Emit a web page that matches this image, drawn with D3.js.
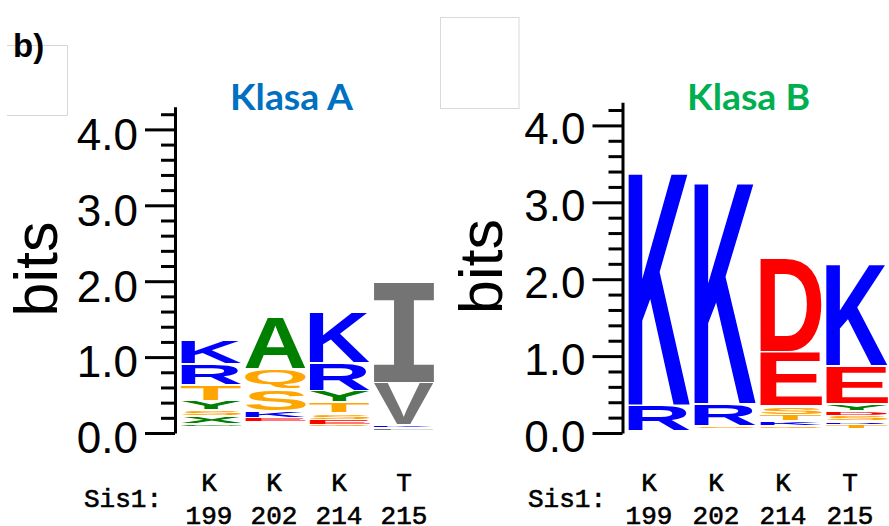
<!DOCTYPE html>
<html><head><meta charset="utf-8">
<script src="https://cdn.jsdelivr.net/npm/d3@7"></script>
<style>body{margin:0;background:#fff} svg{display:block}</style>
</head><body>
<svg id="chart" width="889" height="526"></svg>
<script>
// ---------- data ----------
const positions = ["199", "202", "214", "215"];
const sis1Residues = ["K", "K", "K", "T"];
const majorTicks = [0, 1, 2, 3, 4];
const minorTicks = [0.2, 0.4, 0.6, 0.8, 1.2, 1.4, 1.6, 1.8, 2.2, 2.4, 2.6, 2.8, 3.2, 3.4, 3.6, 3.8, 4.2];
const titles = ["Klasa A", "Klasa B"];

// stacks listed bottom -> top, heights in bits
const lettersA = [
  ["G", "X", "S", "Y", "T", "R", "K"],
  ["E", "K", "S", "Q", "A"],
  ["Q", "E", "S", "T", "Y", "R", "K"],
  ["L", "K", "V", "I"]
];
const bitsA = [
  [0.020, 0.112, 0.079, 0.125, 0.210, 0.270, 0.307],
  [0.043, 0.095, 0.280, 0.274, 0.689],
  [0.026, 0.070, 0.084, 0.149, 0.151, 0.358, 0.671],
  [0.036, 0.037, 0.559, 1.326]
];
const unseenA = [0.092, 0.154, 0.079, 0.033];

const lettersB = [
  ["R", "K"],
  ["S", "R", "K"],
  ["Q", "K", "T", "S", "E", "D"],
  ["T", "R", "S", "D", "Y", "E", "K"]
];
const bitsB = [
  [0.338, 3.066],
  [0.033, 0.286, 2.917],
  [0.046, 0.052, 0.087, 0.114, 0.700, 1.221],
  [0.062, 0.035, 0.078, 0.065, 0.091, 0.494, 1.350]
];
const unseenB = [0.020, 0.059, 0.052, 0.052];

const residueColors = {
  K: "#0000ff", R: "#0000ff", H: "#0000ff",
  D: "#ff0000", E: "#ff0000",
  A: "#008000", Y: "#008000", G: "#008000", X: "#008000", N: "#008000",
  Q: "#ffa500", S: "#ffa500", T: "#ffa500",
  I: "#747474", V: "#747474", L: "#747474"
};

// ---------- drawing ----------
const svg = d3.select("#chart");
svg.append("rect").attr("width", 889).attr("height", 526).attr("fill", "#fff");

// decorative frames
svg.append("path").attr("d", "M7,45.5H67.5V115.5H7").attr("fill", "none").attr("stroke", "#d6d6d6").attr("stroke-width", 1);
svg.append("rect").attr("x", 440.5).attr("y", 17.5).attr("width", 78.5).attr("height", 91)
  .attr("fill", "#fff").attr("stroke", "#d9d9d9").attr("stroke-width", 1);

svg.append("text").attr("x", 13).attr("y", 57).text("b)")
  .attr("font-family", "'Liberation Sans', Arial, sans-serif").attr("font-weight", "bold")
  .attr("font-size", 33).attr("fill", "#000");

const ctx = document.createElement("canvas").getContext("2d");
const metricCache = {};
function fontFor(ch) {
  return ch === "I" ? "'DejaVu Sans Mono'" : "'Liberation Sans'";
}
function glyphMetrics(ch) {
  if (metricCache[ch]) return metricCache[ch];
  ctx.font = "bold 100px " + fontFor(ch);
  const m = ctx.measureText(ch);
  let res = { l: -m.actualBoundingBoxLeft, r: m.actualBoundingBoxRight, t: -m.actualBoundingBoxAscent, b: m.actualBoundingBoxDescent };
  if (!(res.r - res.l > 1) || !(res.b - res.t > 1)) res = { l: 5, r: 65, t: -72, b: 0 };
  metricCache[ch] = res;
  return res;
}

function drawPanel(cfg) {
  const g = svg.append("g");
  const y = d3.scaleLinear().domain([0, 4.3]).range([433, 433 - 4.3 * cfg.pxPerBit]);
  const x = d3.scaleBand().domain(positions).range(cfg.xRange).paddingInner(0.055).paddingOuter(0);
  const ann = d3.scalePoint().domain(positions).range(cfg.annRange);

  // minor ticks + axis line
  const minorAxis = g.append("g").attr("transform", `translate(${cfg.axisX},0)`)
    .call(d3.axisLeft(y).tickValues(minorTicks).tickSize(14).tickSizeOuter(0).tickFormat(""));
  minorAxis.selectAll("line").attr("stroke", "#000").attr("stroke-width", 3);
  minorAxis.select(".domain").attr("stroke", "#000").attr("stroke-width", 3);

  // major ticks
  const majorAxis = g.append("g").attr("transform", `translate(${cfg.axisX},0)`)
    .call(d3.axisLeft(y).tickValues(majorTicks).tickSize(30).tickPadding(7).tickFormat(d3.format(".1f")));
  majorAxis.select(".domain").remove();
  majorAxis.selectAll("line").attr("stroke", "#000").attr("stroke-width", 3);
  majorAxis.selectAll("text").attr("font-family", "'Liberation Sans', Arial, sans-serif")
    .attr("font-size", 44).attr("fill", "#000").attr("dy", cfg.labelDy);

  // y label
  g.append("text").attr("transform", `translate(${cfg.bitsX},${cfg.bitsY}) rotate(-90)`)
    .attr("text-anchor", "middle").attr("font-family", "'Liberation Sans', Arial, sans-serif")
    .attr("font-size", 61).attr("fill", "#000").text("bits");

  // title
  g.append("text").attr("x", cfg.titleX).attr("y", 110).attr("text-anchor", "middle")
    .attr("font-family", "Lato, 'Open Sans', sans-serif").attr("font-weight", "bold")
    .attr("font-size", 37).attr("textLength", 123).attr("lengthAdjust", "spacingAndGlyphs")
    .attr("fill", cfg.titleColor).text(cfg.title);

  // letter stacks
  positions.forEach((p, i) => {
    let cum = cfg.unseen[i];
    const x0 = x(p), w = x.bandwidth();
    cfg.letters[i].forEach((ch, j) => {
      const h = cfg.bits[i][j];
      const yb = y(cum), yt = y(cum + h);
      cum += h;
      const boxH = yb - yt;
      const inset = Math.min(1, boxH * 0.2);
      const gh = boxH - 2 * inset;
      if (gh <= 0.2) return;
      const m = glyphMetrics(ch);
      const sx = w / (m.r - m.l), sy = gh / (m.b - m.t);
      g.append("text")
        .attr("transform", `translate(${x0 - m.l * sx},${yt + inset - m.t * sy}) scale(${sx},${sy})`)
        .attr("font-family", fontFor(ch)).attr("font-weight", "bold").attr("font-size", 100)
        .attr("fill", residueColors[ch] || "#000").text(ch);
    });
  });

  // annotation
  const mono = "'Liberation Mono', 'Courier New', monospace";
  const styleMono = sel => sel.attr("font-family", mono).attr("font-size", 26).attr("fill", "#000")
    .attr("stroke", "#000").attr("stroke-width", 0.6);
  g.append("text").attr("x", cfg.sisX).attr("y", 506.5).call(styleMono).text("Sis1:");
  g.selectAll(null).data(positions).join("text")
    .attr("x", d => ann(d)).attr("y", 490.5).attr("text-anchor", "middle").call(styleMono)
    .text((d, i) => sis1Residues[i]);
  g.selectAll(null).data(positions).join("text")
    .attr("x", d => ann(d)).attr("y", 523.5).attr("text-anchor", "middle").call(styleMono)
    .text(d => d);
}

drawPanel({
  axisX: 175, pxPerBit: 75.9, xRange: [181, 434], annRange: [209, 404],
  letters: lettersA, bits: bitsA, unseen: unseenA,
  title: titles[0], titleColor: "#0070c0", titleX: 291.5,
  bitsX: 57, bitsY: 269, labelDy: "0.45em", sisX: 84
});
drawPanel({
  axisX: 622.5, pxPerBit: 76.9, xRange: [628, 888], annRange: [649, 850],
  letters: lettersB, bits: bitsB, unseen: unseenB,
  title: titles[1], titleColor: "#00b050", titleX: 748.5,
  bitsX: 502, bitsY: 266.5, labelDy: "0.42em", sisX: 528
});
</script>
</body></html>
